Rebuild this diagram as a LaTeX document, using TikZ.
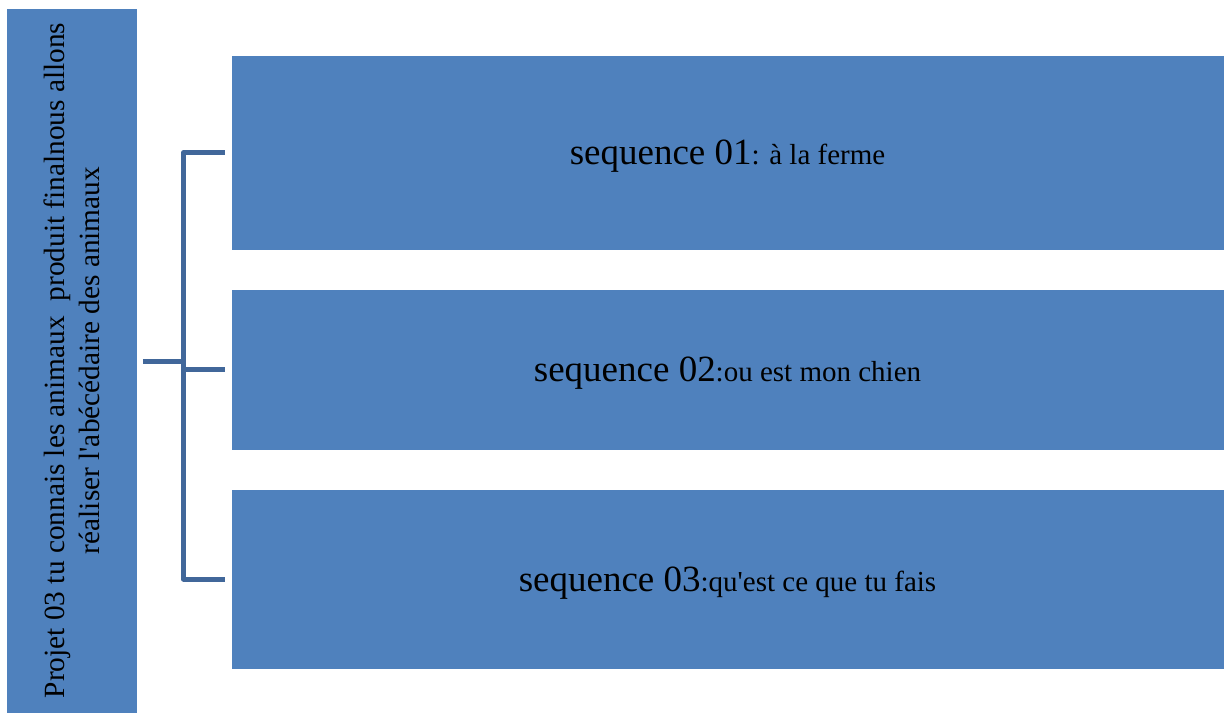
\documentclass[tikz,border=0pt]{standalone}
\usepackage{fontspec}
\setmainfont{Liberation Serif}[Ligatures=TeXOff]
\usetikzlibrary{calc}
\definecolor{boxblue}{HTML}{4F81BD}
\definecolor{connblue}{HTML}{41679A}
\newcommand{\bigtxt}{\fontsize{27.75}{33}\selectfont}
\newcommand{\smalltxt}{\fontsize{21.75}{26}\selectfont}
\tikzset{
  box/.style={rectangle, fill=boxblue, draw=white, line width=0.6pt, inner sep=0pt, text=black, align=center},
  conn/.style={draw=connblue, line width=3.4pt, line join=round}
}
\begin{document}
\begin{tikzpicture}[x=0.75pt,y=-0.75pt]
\useasboundingbox (0,0) rectangle (1226,713);
\begin{scope}
\clip (0,0) rectangle (1226,713);
\node[box, rotate=90, minimum width=528.75pt, minimum height=98.25pt, font={\fontsize{22}{26}\selectfont}] (L) at (72,360.5)
  {Projet 03 tu connais les animaux\ \ produit finalnous allons\\ réaliser l'abécédaire des animaux};
\end{scope}
\node[box, minimum width=744.75pt, minimum height=146.25pt] (B1) at (727.5,152.5)
  {\rule{0pt}{24pt}{\bigtxt sequence 01}{\smalltxt: à la ferme}};
\node[box, minimum width=744.75pt, minimum height=120.4pt] (B2) at (727.5,369.75)
  {\rule{0pt}{24pt}{\bigtxt sequence 02}{\smalltxt:ou est mon chien}};
\node[box, minimum width=744.75pt, minimum height=134.6pt] (B3) at (727.5,579.25)
  {\rule{0pt}{24pt}{\bigtxt sequence 03}{\smalltxt:qu'est ce que tu fais}};
\coordinate (J) at (183.5,361.5);
\draw[conn] ([xshift=-4.5pt]B1.west) -| (J) |- ([xshift=-4.5pt]B3.west);
\draw[conn] (J |- B2.west) -- ([xshift=-4.5pt]B2.west);
\draw[conn] ($(L.south |- J)+(5,0)$) -- (J);
\end{tikzpicture}
\end{document}
